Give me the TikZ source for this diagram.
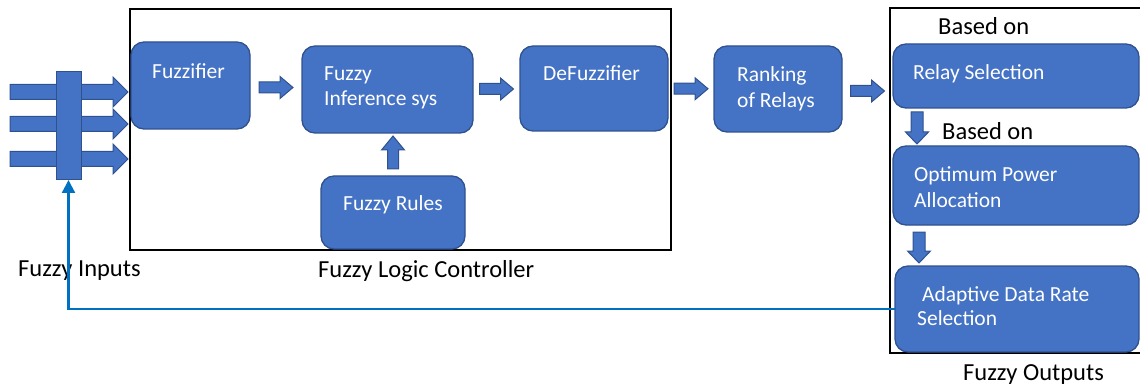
\documentclass[tikz,border=0pt]{standalone}
\usepackage{fontspec}
\setmainfont{Carlito}
\usetikzlibrary{calc,arrows.meta}
\definecolor{boxfill}{HTML}{4472C4}
\definecolor{boxline}{HTML}{2F528F}
\definecolor{fbline}{HTML}{0070C0}
\begin{document}
\begin{tikzpicture}[x=1pt,y=-1pt,
  box/.style={draw=boxline, fill=boxfill, line width=1.3pt, rounded corners=13pt, inner sep=0pt, outer sep=0pt},
  intext/.style={text=white, font=\fontsize{21.5}{26}\selectfont, anchor=west, inner sep=0pt, text height=0.64em, text depth=0pt, yshift=-4pt},
  outtext/.style={text=black, font=\fontsize{24.5}{29}\selectfont, anchor=west, inner sep=0pt, text height=0.64em, text depth=0pt, yshift=-4pt},
  frame/.style={draw=black, line width=2.6pt},
  fat/.style n args={3}{fill=boxfill, draw=boxline, line width=1pt, to path={
    let \p3=($(\tikztotarget)!#3!(\tikztostart)$) in
    ($(\tikztostart)!#1!90:(\tikztotarget)$) -- ($(\p3)!#1!90:(\tikztotarget)$) --
    ($(\p3)!#2!90:(\tikztotarget)$) -- (\tikztotarget) --
    ($(\p3)!#2!-90:(\tikztotarget)$) -- ($(\p3)!#1!-90:(\tikztotarget)$) --
    ($(\tikztostart)!#1!-90:(\tikztotarget)$) -- cycle}},
  fatarrow/.style={fat={5.5pt}{11pt}{13pt}},
  bigarrow/.style={fat={7.5pt}{15pt}{15pt}},
  fb/.style={draw=fbline, line width=2.2pt, -{Triangle[width=13pt,length=13pt]}}
]
\useasboundingbox (0,0) rectangle (1140,390);
\clip (0,0) rectangle (1140,390);

% frames
\node[frame, minimum width=541pt, minimum height=241pt, inner sep=0pt] (flc) at (400.5,129.5) {};
\draw[frame] (1140,8) -- (890,8) -- (890,353) -- (1140,353);

% boxes
\node[box, minimum width=119pt, minimum height=87pt] (fuzz) at (190.5,85.5) {};
\node[box, minimum width=171pt, minimum height=87pt] (fis) at (387.5,89.5) {};
\node[box, minimum width=148pt, minimum height=85pt] (defuzz) at (594,88.5) {};
\node[box, minimum width=144pt, minimum height=73pt] (rules) at (393,212.5) {};
\node[box, minimum width=128pt, minimum height=86pt] (rank) at (778,89) {};
\node[box, minimum width=246pt, minimum height=64pt] (relay) at (1016,76) {};
\node[box, minimum width=246pt, minimum height=79pt] (opt) at (1016,185.5) {};
\node[box, minimum width=244pt, minimum height=86pt] (adr) at (1017,309) {};

% box texts
\node[intext] (tfuzz) at (152,71) {Fuzzifier};
\node[intext] (tfis1) at (324,73) {Fuzzy};
\node[intext] (tfis2) at (324,98) {Inference sys};
\node[intext] (tdef) at (543,73) {DeFuzzifier};
\node[intext] (trules) at (343,203) {Fuzzy Rules};
\node[intext] (trank1) at (737,74) {Ranking};
\node[intext] (trank2) at (737,100) {of Relays};
\node[intext] (trelay) at (913,72) {Relay Selection};
\node[intext] (topt1) at (914,174) {Optimum Power};
\node[intext] (topt2) at (914,200) {Allocation};
\node[intext] (tadr1) at (922,294) {Adaptive Data Rate};
\node[intext] (tadr2) at (917,318) {Selection};

% outside labels
\node[outtext] (based1) at (938,27) {Based on};
\node[outtext] (based2) at (942,132) {Based on};
\node[outtext] (lin) at (18,269) {Fuzzy Inputs};
\node[outtext] (lflc) at (318,270) {Fuzzy Logic Controller};
\node[outtext] (lout) at (963,373) {Fuzzy Outputs};

% fat arrows between boxes
\coordinate (m1) at ($(fuzz.east)!.5!(fis.west)$);
\coordinate (m2) at ($(fis.east)!.5!(defuzz.west)$);
\coordinate (m3) at ($(defuzz.east)!.5!(rank.west)$);
\coordinate (m4) at ($(rank.east)!.5!(relay.west |- rank.east)$);
\draw[fatarrow] ([xshift=-17pt]m1) to ([xshift=17pt]m1);
\draw[fatarrow] ([xshift=-17pt]m2) to ([xshift=17pt]m2);
\draw[fatarrow] ([xshift=-17pt]m3) to ([xshift=17pt]m3);
\draw[fatarrow] ([xshift=-17pt,yshift=-2pt]m4) to ([xshift=17pt,yshift=-2pt]m4);
\draw[fat={5.5pt}{11.5pt}{14pt}] ([yshift=7pt]rules.north) to ([yshift=-3pt]fis.south -| rules.north);
\draw[fat={6pt}{11.5pt}{12pt}] ([xshift=24pt,yshift=-4pt]relay.south west) to ([xshift=24pt,yshift=2pt]opt.north west);
\draw[fat={6pt}{11.5pt}{12pt}] ([xshift=26pt,yshift=-7pt]opt.south west) to ([xshift=26pt,yshift=3pt]opt.south west |- adr.north);

% input arrows
\coordinate (is1) at (10,92);  \coordinate (ie1) at (128,92);
\coordinate (is2) at (10,124); \coordinate (ie2) at (128,124);
\coordinate (is3) at (10,159); \coordinate (ie3) at (128,159);
\draw[bigarrow] (is1) to (ie1);
\draw[bigarrow] (is2) to (ie2);
\draw[bigarrow] (is3) to (ie3);
\node[box, rounded corners=0pt, line width=1pt, minimum width=25pt, minimum height=108pt] (bar) at (68.5,126) {};

% feedback
\draw[fb] (adr.west) -| (bar.south);
\end{tikzpicture}
\end{document}
